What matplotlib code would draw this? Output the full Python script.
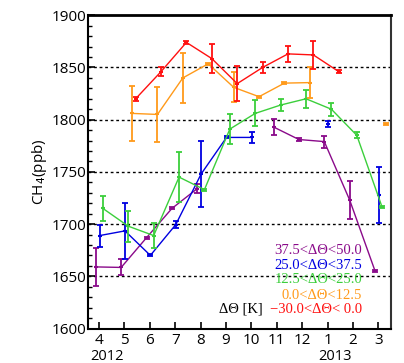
import numpy as np
import matplotlib
matplotlib.use("Agg")
import matplotlib.pyplot as plt
from matplotlib.ticker import MultipleLocator
from matplotlib.transforms import blended_transform_factory

nan = np.nan
months = [4, 5, 6, 7, 8, 9, 10, 11, 12, 13, 14, 15]
month_labels = ['4', '5', '6', '7', '8', '9', '10', '11', '12', '1', '2', '3']
year_labels = {4: '2012', 13: '2013'}

labels = ['37.5<ΔΘ<50.0', '25.0<ΔΘ<37.5', '12.5<ΔΘ<25.0', '0.0<ΔΘ<12.5', '\u221230.0<ΔΘ< 0.0']

purple_vals = [1659, 1658.5, 1687, 1715, 1734, nan, nan, 1793, 1781, 1779, 1723, 1655]
purple_err = [18.5, 7.7, 1, 1, 4.5, nan, nan, 8, 1, 5.7, 18.3, 1]
blue_vals = [1689, 1693.5, 1670, 1699.5, 1748, 1783, 1783, nan, nan, 1796, nan, 1728]
blue_err = [10.6, 27, 1, 3, 31.5, 1, 5.3, nan, nan, 3, nan, 26.5]
green_vals = [1715, 1698, 1689, 1745, 1733, 1791, 1806, 1814, 1820, 1810, 1785, 1716]
green_err = [12, 15, 12, 24, 1, 14.5, 12.5, 6, 8.5, 6.4, 3, 1]
orange_vals = [nan, 1806, 1805, 1840, 1853.5, 1831, 1822, 1835, 1835.5, nan, nan, 1796]
orange_err = [nan, 26, 26.6, 24, 1, 14.5, 1, 1, 15, nan, nan, 1]
red_vals = [nan, 1820, 1846, 1874, 1858.5, 1834.5, 1850, 1863, 1862, 1846, nan, nan]
red_err = [nan, 2, 4.5, 1.5, 14, 17, 5.5, 7.6, 13, 1.5, nan, nan]

series = [purple_vals, blue_vals, green_vals, orange_vals, red_vals]
errors = [purple_err, blue_err, green_err, orange_err, red_err]

# styling
colors = ['#8a0a8a', '#0000e0', '#3ccf3c', '#ff9a1a', '#ff1010']
offsets = [-0.13, 0.02, 0.15, 0.30, 0.44]
text_y = [0.248, 0.200, 0.155, 0.104, 0.0616]

fig = plt.figure(figsize=(4.04, 3.63), dpi=100)
ax = fig.add_axes([0.218, 0.095, 0.750, 0.863])

for vals, errs, col, off in zip(series, errors, colors, offsets):
    x = np.array(months, dtype=float) + off
    v = np.array(vals, dtype=float)
    e = np.array(errs, dtype=float)
    ax.plot(x, v, color=col, lw=1.0, zorder=3)
    ax.errorbar(x, v, yerr=e, fmt='none', ecolor=col, elinewidth=1.3,
                capsize=2.3, capthick=1.3, zorder=3)
    ax.plot(x, v, linestyle='none', marker='_', ms=3, mew=1.5, color=col, zorder=3)

ax.set_xlim(3.567, 15.5)
ax.set_ylim(1600, 1900)

for yv in [1650, 1700, 1750, 1800, 1850]:
    ax.axhline(yv, color='black', lw=1.0, linestyle=(0, (2, 2)), zorder=1)

tick_font = 'Open Sans'
ax.set_xticks(months)
ax.set_xticklabels(month_labels, fontfamily=tick_font, fontsize=11)
ax.yaxis.set_major_locator(MultipleLocator(50))
ax.yaxis.set_minor_locator(MultipleLocator(10))
for lab in ax.get_yticklabels():
    lab.set_fontfamily(tick_font)
    lab.set_fontsize(11)
ax.tick_params(axis='y', which='major', direction='in', length=5, width=1.2, pad=1,
               labelsize=11)
ax.tick_params(axis='y', which='minor', direction='in', length=3, width=1.0)
ax.tick_params(axis='x', which='major', direction='in', length=5, width=1.2, pad=3,
               labelsize=11)

trans = blended_transform_factory(ax.transData, ax.transAxes)
for m, yl in year_labels.items():
    ax.annotate(yl, xy=(m, 0), xycoords=trans, xytext=(5.5, -14.8), textcoords='offset points',
                ha='center', va='top', fontfamily=tick_font, fontsize=10.5)

ax.set_ylabel('CH$_4$(ppb)', fontfamily=tick_font, fontsize=11, labelpad=2)

for spine in ['left', 'bottom']:
    ax.spines[spine].set_linewidth(1.5)
    ax.spines[spine].set_color('black')
ax.spines['right'].set_linewidth(1.5)
ax.spines['right'].set_color('#333333')
ax.spines['top'].set_linewidth(2.0)
ax.spines['top'].set_color('black')
ax.spines['top'].set_linestyle((0, (3, 1)))

for lab, col, ty in zip(labels, colors, text_y):
    ax.text(0.904, ty, lab, color=col, transform=ax.transAxes, ha='right', va='center',
            fontfamily='Liberation Serif', fontsize=10.5)
ax.text(0.575, text_y[-1], 'ΔΘ [K]', color='black', transform=ax.transAxes,
        ha='right', va='center', fontfamily='Liberation Serif', fontsize=10.5)

fig.savefig('out.png', dpi=100)
